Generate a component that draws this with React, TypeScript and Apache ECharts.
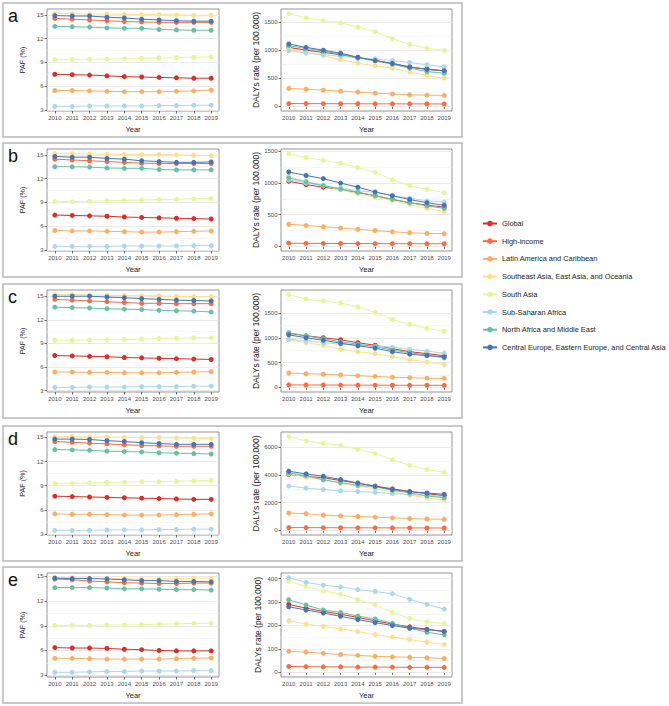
import React, { useEffect, useRef } from 'react';
import * as echarts from 'echarts';

const years = [2010, 2011, 2012, 2013, 2014, 2015, 2016, 2017, 2018, 2019];

const regions = [
  'Global',
  'High-income',
  'Latin America and Caribbean',
  'Southeast Asia, East Asia, and Oceania',
  'South Asia',
  'Sub-Saharan Africa',
  'North Africa and Middle East',
  'Central Europe, Eastern Europe, and Central Asia',
];

const colors = ['#D73027', '#F46D43', '#FDAE61', '#FEE08B', '#E6F598', '#ABD9E9', '#66C2A5', '#4575B4'];

const panelLetters = ['a', 'b', 'c', 'd', 'e'];

// PAF (%) — order follows `regions`
const pafA = [
  [7.5, 7.45, 7.4, 7.3, 7.2, 7.15, 7.1, 7.05, 7.0, 7.0],
  [14.55, 14.45, 14.35, 14.25, 14.15, 14.1, 14.05, 14.05, 14.05, 14.05],
  [5.45, 5.45, 5.4, 5.35, 5.3, 5.3, 5.3, 5.35, 5.4, 5.5],
  [15.15, 15.15, 15.1, 15.1, 15.05, 15.05, 15.05, 15.0, 14.95, 14.95],
  [9.35, 9.35, 9.4, 9.4, 9.45, 9.5, 9.55, 9.6, 9.65, 9.7],
  [3.45, 3.45, 3.5, 3.5, 3.5, 3.5, 3.55, 3.55, 3.6, 3.6],
  [13.55, 13.5, 13.45, 13.35, 13.3, 13.3, 13.15, 13.1, 13.05, 13.05],
  [14.9, 14.85, 14.85, 14.7, 14.6, 14.45, 14.35, 14.25, 14.2, 14.2],
];
const pafB = [
  [7.4, 7.35, 7.3, 7.25, 7.15, 7.1, 7.05, 7.0, 6.95, 6.9],
  [14.45, 14.35, 14.25, 14.15, 14.05, 13.95, 13.9, 13.9, 13.9, 13.9],
  [5.45, 5.4, 5.4, 5.35, 5.3, 5.25, 5.25, 5.3, 5.35, 5.4],
  [15.15, 15.15, 15.1, 15.1, 15.05, 15.05, 15.05, 15.0, 14.95, 14.9],
  [9.1, 9.1, 9.15, 9.2, 9.25, 9.3, 9.35, 9.4, 9.45, 9.5],
  [3.45, 3.45, 3.45, 3.45, 3.5, 3.5, 3.5, 3.5, 3.55, 3.55],
  [13.5, 13.5, 13.45, 13.35, 13.3, 13.3, 13.15, 13.1, 13.1, 13.1],
  [14.8, 14.7, 14.7, 14.55, 14.45, 14.25, 14.15, 14.05, 14.05, 14.1],
];
const pafC = [
  [7.45, 7.4, 7.35, 7.3, 7.2, 7.15, 7.1, 7.05, 7.0, 6.95],
  [14.6, 14.5, 14.4, 14.3, 14.2, 14.1, 14.1, 14.05, 14.05, 14.05],
  [5.35, 5.35, 5.3, 5.3, 5.25, 5.25, 5.25, 5.3, 5.35, 5.4],
  [15.2, 15.2, 15.15, 15.1, 15.1, 15.05, 15.05, 15.0, 14.95, 14.95],
  [9.4, 9.4, 9.45, 9.45, 9.5, 9.55, 9.6, 9.65, 9.7, 9.7],
  [3.4, 3.4, 3.45, 3.45, 3.45, 3.5, 3.5, 3.5, 3.55, 3.55],
  [13.6, 13.55, 13.5, 13.4, 13.35, 13.3, 13.2, 13.15, 13.1, 13.0],
  [15.0, 15.0, 15.0, 14.9, 14.8, 14.7, 14.6, 14.5, 14.45, 14.4],
];
const pafD = [
  [7.7, 7.65, 7.6, 7.55, 7.5, 7.45, 7.4, 7.35, 7.3, 7.3],
  [14.5, 14.4, 14.3, 14.2, 14.1, 14.0, 13.95, 13.9, 13.9, 13.9],
  [5.5, 5.45, 5.45, 5.4, 5.35, 5.35, 5.35, 5.4, 5.45, 5.5],
  [15.1, 15.1, 15.05, 15.05, 15.0, 15.0, 15.0, 14.95, 14.9, 14.85],
  [9.3, 9.3, 9.35, 9.4, 9.45, 9.5, 9.5, 9.55, 9.6, 9.65],
  [3.45, 3.45, 3.45, 3.5, 3.5, 3.5, 3.55, 3.55, 3.6, 3.6],
  [13.5, 13.45, 13.4, 13.3, 13.25, 13.2, 13.1, 13.05, 13.0, 12.95],
  [14.8, 14.8, 14.75, 14.6, 14.5, 14.35, 14.25, 14.15, 14.15, 14.15],
];
const pafE = [
  [6.35, 6.3, 6.3, 6.25, 6.15, 6.1, 6.0, 5.95, 5.95, 5.95],
  [14.7, 14.6, 14.45, 14.35, 14.25, 14.2, 14.15, 14.15, 14.2, 14.2],
  [5.05, 5.05, 5.0, 4.95, 4.95, 4.95, 4.95, 5.0, 5.05, 5.1],
  [14.85, 14.85, 14.8, 14.8, 14.75, 14.7, 14.7, 14.75, 14.8, 14.8],
  [9.05, 9.05, 9.05, 9.1, 9.1, 9.15, 9.2, 9.25, 9.3, 9.3],
  [3.35, 3.35, 3.4, 3.45, 3.45, 3.5, 3.5, 3.5, 3.55, 3.55],
  [13.65, 13.65, 13.65, 13.6, 13.5, 13.5, 13.45, 13.4, 13.4, 13.35],
  [14.8, 14.75, 14.75, 14.7, 14.6, 14.5, 14.5, 14.4, 14.4, 14.35],
];

// DALYs rate (per 100,000) — order follows `regions`
const dalyA = [
  [1050, 1000, 960, 920, 870, 820, 760, 700, 660, 630],
  [50, 49, 48, 47, 46, 45, 45, 44, 44, 43],
  [320, 305, 290, 270, 255, 235, 220, 205, 200, 195],
  [1030, 960, 900, 830, 770, 720, 680, 610, 550, 500],
  [1650, 1575, 1525, 1485, 1410, 1330, 1200, 1100, 1035, 995],
  [990, 950, 920, 890, 860, 845, 815, 780, 740, 700],
  [1080, 1030, 985, 930, 860, 810, 750, 680, 620, 590],
  [1110, 1050, 1000, 945, 875, 815, 765, 700, 660, 635],
];
const dalyB = [
  [1030, 975, 935, 900, 850, 800, 740, 690, 650, 620],
  [50, 48, 46, 45, 44, 43, 42, 42, 41, 41],
  [350, 330, 310, 290, 270, 250, 230, 215, 205, 200],
  [1100, 1030, 960, 890, 830, 780, 720, 660, 600, 550],
  [1465, 1400, 1360, 1315, 1245, 1170, 1050, 960, 900, 850],
  [1050, 1000, 960, 920, 880, 850, 800, 760, 720, 700],
  [1080, 1020, 960, 905, 855, 800, 745, 690, 640, 600],
  [1175, 1120, 1070, 1000, 935, 860, 800, 740, 690, 650],
];
const dalyC = [
  [1090, 1040, 1000, 960, 900, 850, 780, 720, 680, 640],
  [50, 48, 47, 46, 45, 44, 43, 42, 42, 41],
  [290, 275, 265, 250, 235, 220, 205, 195, 185, 180],
  [960, 900, 850, 770, 720, 680, 620, 560, 510, 460],
  [1870, 1780, 1740, 1700, 1620, 1510, 1370, 1270, 1190, 1130],
  [970, 940, 900, 870, 850, 830, 810, 770, 730, 690],
  [1100, 1040, 980, 920, 870, 820, 750, 700, 650, 595],
  [1060, 1000, 950, 890, 840, 790, 720, 670, 640, 615],
];
const dalyD = [
  [4050, 3900, 3800, 3600, 3400, 3200, 3000, 2800, 2650, 2500],
  [200, 195, 190, 185, 180, 178, 175, 172, 170, 168],
  [1250, 1200, 1100, 1050, 1000, 950, 900, 850, 820, 800],
  [4100, 3850, 3650, 3400, 3200, 3000, 2800, 2550, 2350, 2200],
  [6770, 6460, 6290, 6140, 5850, 5560, 5100, 4700, 4400, 4200],
  [3200, 3050, 2950, 2850, 2800, 2750, 2650, 2600, 2500, 2450],
  [4150, 3950, 3650, 3450, 3250, 3150, 2900, 2700, 2500, 2350],
  [4270, 4080, 3910, 3670, 3420, 3180, 2950, 2800, 2700, 2600],
];
const dalyE = [
  [290, 274, 260, 248, 234, 220, 206, 194, 184, 174],
  [25, 24, 23, 23, 22, 22, 22, 21, 21, 21],
  [90, 86, 81, 76, 72, 68, 66, 64, 62, 59],
  [220, 206, 196, 185, 174, 161, 151, 140, 128, 119],
  [390, 366, 348, 334, 310, 288, 256, 230, 215, 208],
  [404, 384, 372, 365, 353, 345, 336, 312, 290, 270],
  [310, 287, 266, 256, 240, 228, 209, 188, 171, 160],
  [280, 266, 253, 239, 225, 212, 200, 188, 182, 175],
];

const pafPanels = [pafA, pafB, pafC, pafD, pafE];
const dalyPanels = [dalyA, dalyB, dalyC, dalyD, dalyE];
const pafStep = 3;
const dalySteps = [500, 500, 500, 2000, 100];

const FONT = 'Liberation Sans, Arial, Helvetica, sans-serif';
const boxTops = [3, 143, 284, 426, 567];
const boxHeights = [134, 134, 134, 135, 136];

function buildOption() {
  const grid: any[] = [];
  const xAxis: any[] = [];
  const yAxis: any[] = [];
  const series: any[] = [];
  const graphic: any[] = [];

  for (let i = 0; i < 5; i++) {
    const top = boxTops[i];
    const h = boxHeights[i];
    graphic.push({
      type: 'rect',
      shape: { x: 3, y: top, width: 459, height: h },
      style: { fill: 'none', stroke: '#b8b8b8', lineWidth: 1.5 },
      silent: true,
    });
    graphic.push({
      type: 'text',
      x: 8,
      y: top + 13,
      style: {
        text: panelLetters[i],
        fontSize: 18,
        fontFamily: FONT,
        fill: '#111',
        verticalAlign: 'middle',
      },
      silent: true,
    });

    for (let p = 0; p < 2; p++) {
      const gi = i * 2 + p;
      const vals = p === 0 ? pafPanels[i] : dalyPanels[i];
      const flat = vals.flat();
      let lo = Math.min(...flat);
      const hi = Math.max(...flat);
      if (p === 1) lo = Math.min(0, lo);
      const r = hi - lo;
      const ymin = lo - 0.05 * r;
      const ymax = hi + 0.05 * r;
      const step = p === 0 ? pafStep : dalySteps[i];
      const majors: number[] = [];
      const minors: number[] = [];
      for (let k = Math.ceil(ymin / step) - 1; k * step <= ymax + step; k++) {
        const v = k * step;
        if (v >= ymin && v <= ymax) majors.push(v);
        const m = v + step / 2;
        if (m >= ymin && m <= ymax) minors.push(m);
      }

      grid.push({
        left: p === 0 ? 47 : 281,
        width: p === 0 ? 172 : 171,
        top: top + 6,
        height: h - 32,
        show: true,
        borderColor: '#7a7a7a',
        borderWidth: 0.8,
        backgroundColor: 'transparent',
        containLabel: false,
      });

      xAxis.push({
        type: 'value',
        gridIndex: gi,
        min: 2009.55,
        max: 2019.45,
        axisLine: { show: false },
        axisTick: { show: true, customValues: years, length: 2.5, lineStyle: { color: '#444', width: 0.8 } },
        axisLabel: {
          customValues: years,
          fontSize: 6,
          color: '#4d4d4d',
          margin: 3.5,
          fontFamily: FONT,
          formatter: (v: number) => String(Math.round(v)),
        },
        splitLine: { show: false },
        name: 'Year',
        nameLocation: 'middle',
        nameGap: 14,
        nameTextStyle: { fontSize: 7.5, color: '#1a1a1a', fontFamily: FONT },
      });

      yAxis.push({
        type: 'value',
        gridIndex: gi,
        min: ymin,
        max: ymax,
        axisLine: { show: false },
        axisTick: { show: true, customValues: majors, length: 2.5, lineStyle: { color: '#444', width: 0.8 } },
        axisLabel: {
          customValues: majors,
          fontSize: 6,
          color: '#4d4d4d',
          margin: 3.5,
          fontFamily: FONT,
          formatter: (v: number) => String(Math.round(v)),
        },
        splitLine: { show: false },
        name: p === 0 ? 'PAF (%)' : 'DALYs rate (per 100,000)',
        nameLocation: 'middle',
        nameGap: p === 0 ? 21 : 19,
        nameTextStyle: { fontSize: p === 0 ? 7.2 : 8.5, color: '#1a1a1a', fontFamily: FONT },
      });

      vals.forEach((arr, s) => {
        const ser: any = {
          type: 'line',
          name: regions[s],
          xAxisIndex: gi,
          yAxisIndex: gi,
          data: years.map((y, j) => [y, arr[j]]),
          symbol: 'circle',
          symbolSize: 5,
          showSymbol: true,
          color: colors[s],
          lineStyle: { width: 1, color: colors[s] },
          itemStyle: { color: colors[s] },
          emphasis: { disabled: true },
          clip: false,
        };
        if (s === 0) {
          ser.markLine = {
            silent: true,
            symbol: 'none',
            z: 1,
            label: { show: false },
            animation: false,
            data: [
              ...majors.map((v) => ({ yAxis: v, lineStyle: { color: '#e8e8e8', width: 0.9, type: 'solid' } })),
              ...minors.map((v) => ({ yAxis: v, lineStyle: { color: '#f0f0f0', width: 0.6, type: 'solid' } })),
            ],
          };
        }
        series.push(ser);
      });
    }
  }

  return {
    animation: false,
    backgroundColor: '#ffffff',
    textStyle: { fontFamily: FONT },
    grid,
    xAxis,
    yAxis,
    series,
    graphic,
    legend: {
      data: regions,
      orient: 'vertical',
      left: 482,
      top: 220,
      itemWidth: 14,
      itemHeight: 7,
      itemGap: 10.7,
      padding: 0,
      selectedMode: false,
      textStyle: { fontSize: 7.4, color: '#1a1a1a', fontFamily: FONT },
    },
  };
}

export default function App() {
  const ref = useRef<HTMLDivElement>(null);
  useEffect(() => {
    if (!ref.current) return;
    const chart = echarts.init(ref.current, undefined, { renderer: 'svg' });
    chart.setOption(buildOption() as any);
    return () => chart.dispose();
  }, []);
  return (
    <div
      ref={ref}
      style={{ position: 'fixed', left: 0, top: 0, width: 669, height: 706, background: '#fff' }}
    />
  );
}
